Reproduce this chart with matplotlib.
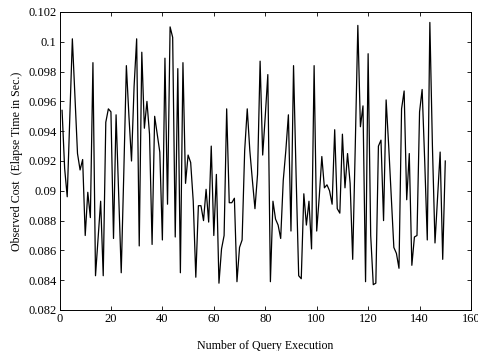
import matplotlib
matplotlib.use("Agg")
import matplotlib.pyplot as plt
import numpy as np

query_index = list(range(1, 151))
observed_cost = [
    0.0954, 0.0915, 0.0896, 0.0950, 0.1002, 0.0963, 0.0925, 0.0914, 0.0921, 0.0870,
    0.0899, 0.0882, 0.0986, 0.0843, 0.0868, 0.0893, 0.0843, 0.0946, 0.0955, 0.0953,
    0.0868, 0.0951, 0.0898, 0.0845, 0.0912, 0.0984, 0.0950, 0.0920, 0.0970, 0.1002,
    0.0863, 0.0993, 0.0942, 0.0960, 0.0938, 0.0864, 0.0950, 0.0938, 0.0926, 0.0867,
    0.0989, 0.0891, 0.1010, 0.1003, 0.0869, 0.0982, 0.0845, 0.0986, 0.0905, 0.0924,
    0.0919, 0.0893, 0.0842, 0.0890, 0.0890, 0.0880, 0.0901, 0.0879, 0.0930, 0.0870,
    0.0911, 0.0838, 0.0861, 0.0870, 0.0955, 0.0892, 0.0892, 0.0895, 0.0839, 0.0862,
    0.0867, 0.0927, 0.0955, 0.0927, 0.0907, 0.0888, 0.0911, 0.0987, 0.0924, 0.0950,
    0.0978, 0.0839, 0.0893, 0.0881, 0.0877, 0.0868, 0.0907, 0.0927, 0.0951, 0.0873,
    0.0984, 0.0910, 0.0843, 0.0841, 0.0898, 0.0877, 0.0893, 0.0861, 0.0984, 0.0873,
    0.0896, 0.0923, 0.0902, 0.0904, 0.0900, 0.0891, 0.0941, 0.0888, 0.0885, 0.0938,
    0.0902, 0.0925, 0.0905, 0.0854, 0.0930, 0.1011, 0.0943, 0.0957, 0.0839, 0.0992,
    0.0870, 0.0837, 0.0838, 0.0930, 0.0934, 0.0880, 0.0961, 0.0930, 0.0896, 0.0862,
    0.0858, 0.0848, 0.0955, 0.0967, 0.0894, 0.0925, 0.0850, 0.0869, 0.0870, 0.0953,
    0.0968, 0.0920, 0.0867, 0.1013, 0.0930, 0.0865, 0.0895, 0.0926, 0.0854, 0.0920,
]
x_ticks = [0, 20, 40, 60, 80, 100, 120, 140, 160]
y_ticks = [0.082, 0.084, 0.086, 0.088, 0.09, 0.092, 0.094, 0.096, 0.098, 0.1, 0.102]
y_tick_labels = ["0.082", "0.084", "0.086", "0.088", "0.09", "0.092", "0.094",
                 "0.096", "0.098", "0.1", "0.102"]

plt.rcParams['font.family'] = ['Liberation Serif', 'DejaVu Serif']

fig = plt.figure(figsize=(4.78, 3.51), dpi=100)
W, H = 478, 351
ax = fig.add_axes([59.5 / W, 1 - 310 / H, (471 - 59.5) / W, (310 - 12) / H])
ax.plot(query_index, observed_cost, color='black', linewidth=0.9)
ax.set_xlim(0, 160)
ax.set_ylim(0.082, 0.102)
ax.set_xticks(x_ticks)
ax.set_yticks(y_ticks)
ax.set_yticklabels(y_tick_labels)
ax.tick_params(direction='in', top=True, right=True, labelsize=9, length=3, width=0.6, pad=2)
for s in ax.spines.values():
    s.set_linewidth(0.7)
ax.set_xlabel('Number of Query Execution', fontsize=8.6, labelpad=11)
ax.set_ylabel('Observed Cost  (Elapse Time in Sec.)', fontsize=8.6, labelpad=4)
fig.savefig('out.png', dpi=100)
